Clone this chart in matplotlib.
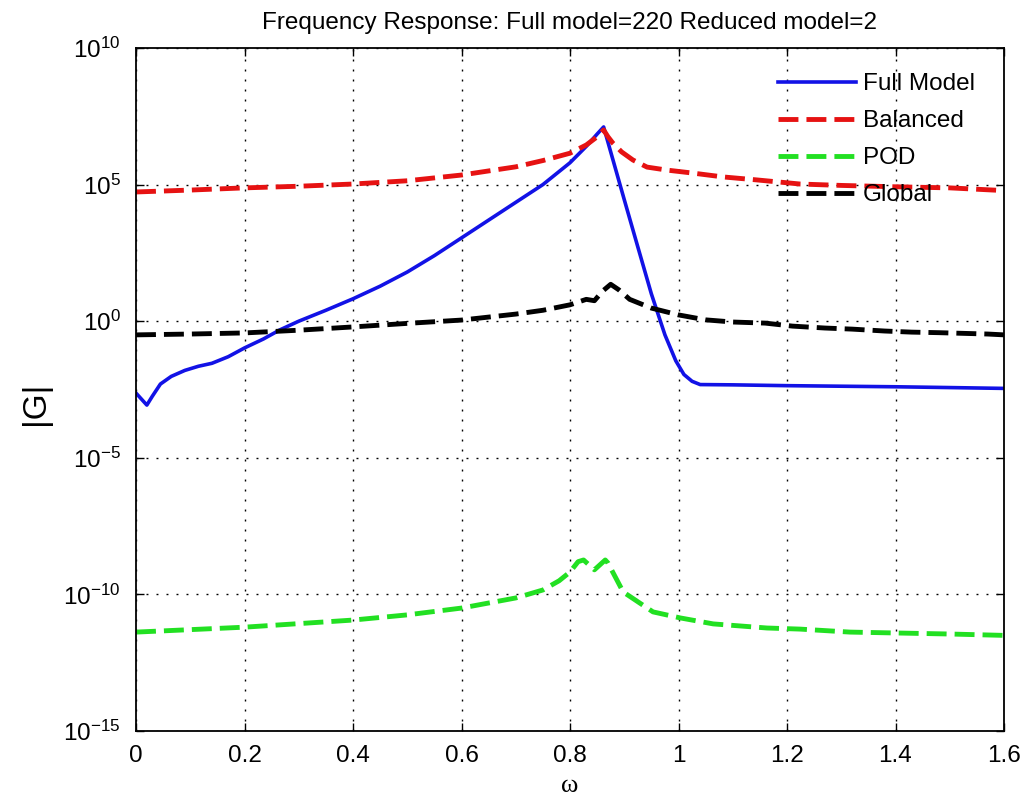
import matplotlib
matplotlib.use("Agg")
import matplotlib.pyplot as plt
from matplotlib.ticker import NullLocator, FixedLocator

plt.rcParams['font.family'] = ['Liberation Sans', 'DejaVu Sans']
plt.rcParams['mathtext.fontset'] = 'custom'
plt.rcParams['mathtext.rm'] = 'Liberation Sans'
plt.rcParams['mathtext.it'] = 'Liberation Sans:italic'
plt.rcParams['mathtext.bf'] = 'Liberation Sans:bold'
plt.rcParams['axes.unicode_minus'] = False

# Frequency response magnitudes |G(w)|
w_full = [0.000, 0.010, 0.020, 0.030, 0.045, 0.065, 0.090, 0.115, 0.140, 0.170,
          0.200, 0.235, 0.265, 0.300, 0.350, 0.400, 0.450, 0.500, 0.550, 0.600,
          0.650, 0.700, 0.750, 0.800, 0.830, 0.850, 0.862, 0.875, 0.900, 0.925,
          0.950, 0.975, 0.995, 1.010, 1.025, 1.040, 1.100, 1.200, 1.300, 1.400,
          1.500, 1.600]
g_full = [2.34e-3, 1.41e-3, 8.51e-4, 1.78e-3, 5.01e-3, 9.55e-3, 1.58e-2, 2.24e-2, 2.88e-2, 5.01e-2,
          1.05e-1, 2.24e-1, 4.79e-1, 1.0, 2.51, 6.61, 19.1, 63.1, 251.0, 1.12e3,
          5.01e3, 2.24e4, 1.0e5, 6.31e5, 2.51e6, 7.08e6, 1.29e7, 1.58e6, 2.82e4, 525.0,
          10.0, 0.316, 3.55e-2, 1.12e-2, 6.31e-3, 4.79e-3, 4.68e-3, 4.37e-3, 4.17e-3, 3.98e-3,
          3.72e-3, 3.47e-3]

w_bal = [0.0, 0.1, 0.2, 0.3, 0.4, 0.5, 0.6, 0.7, 0.75, 0.80, 0.83, 0.85, 0.862,
         0.870, 0.879, 0.895, 0.916, 0.942, 0.979, 1.027, 1.082, 1.145, 1.224, 1.3,
         1.4, 1.5, 1.6]
g_bal = [5.37e4, 6.31e4, 7.59e4, 8.71e4, 1.05e5, 1.38e5, 2.24e5, 4.47e5, 7.59e5, 1.41e6,
         2.82e6, 5.62e6, 1.0e7, 5.62e6, 3.31e6, 1.58e6, 7.94e5, 4.37e5, 3.39e5, 2.63e5,
         1.91e5, 1.48e5, 1.05e5, 9.33e4, 8.32e4, 7.59e4, 6.03e4]

w_pod = [0.0, 0.2, 0.4, 0.5, 0.6, 0.7, 0.75, 0.78, 0.80, 0.815, 0.825, 0.845,
         0.865, 0.870, 0.898, 0.953, 1.003, 1.064, 1.163, 1.224, 1.316, 1.395, 1.5, 1.6]
g_pod = [4.17e-12, 6.31e-12, 1.15e-11, 1.78e-11, 3.16e-11, 7.41e-11, 1.45e-10, 3.16e-10,
         6.61e-10, 1.58e-9, 1.82e-9, 7.94e-10, 1.82e-9, 1.41e-9, 1.23e-10, 2.29e-11,
         1.38e-11, 8.32e-12, 5.89e-12, 5.37e-12, 4.17e-12, 3.89e-12, 3.55e-12, 3.16e-12]

w_glob = [0.0, 0.1, 0.2, 0.3, 0.4, 0.5, 0.6, 0.7, 0.75, 0.80, 0.83, 0.845, 0.86,
          0.875, 0.89, 0.91, 0.95, 1.0, 1.05, 1.1, 1.16, 1.21, 1.27, 1.32, 1.38,
          1.43, 1.48, 1.57, 1.6]
g_glob = [0.316, 0.339, 0.372, 0.468, 0.617, 0.832, 1.10, 1.82, 2.51, 3.98, 6.31, 5.62,
          12.6, 22.4, 14.1, 6.31, 3.02, 1.70, 1.12, 0.933, 0.851, 0.661, 0.562, 0.513,
          0.437, 0.398, 0.380, 0.339, 0.316]

series_labels = ['Full Model', 'Balanced', 'POD', 'Global']
x_ticks = [0, 0.2, 0.4, 0.6, 0.8, 1.0, 1.2, 1.4, 1.6]
x_ticklabels = ['0', '0.2', '0.4', '0.6', '0.8', '1', '1.2', '1.4', '1.6']
y_ticks = [1e-15, 1e-10, 1e-5, 1e0, 1e5, 1e10]
y_ticklabels = [r'$10^{-15}$', r'$10^{-10}$', r'$10^{-5}$', r'$10^{0}$', r'$10^{5}$', r'$10^{10}$']

W, H = 1023, 805
fig = plt.figure(figsize=(W / 100, H / 100), dpi=100)
left, right, top, bottom = 136, 1004, 48, 731
ax = fig.add_axes([left / W, 1 - bottom / H, (right - left) / W, (bottom - top) / H])

dash = (0, (4.1, 1.65))
ax.plot(w_full, g_full, color='#1212e6', lw=2.6, label=series_labels[0])
ax.plot(w_bal, g_bal, color='#e61212', lw=3.5, ls=dash, label=series_labels[1])
ax.plot(w_pod, g_pod, color='#22e022', lw=3.5, ls=dash, label=series_labels[2])
ax.plot(w_glob, g_glob, color='black', lw=3.5, ls=dash, label=series_labels[3])

ax.set_yscale('log')
ax.set_xlim(0, 1.6)
ax.set_ylim(1e-15, 1e10)
ax.xaxis.set_major_locator(FixedLocator(x_ticks))
ax.set_xticklabels(x_ticklabels)
ax.yaxis.set_major_locator(FixedLocator(y_ticks))
ax.yaxis.set_minor_locator(NullLocator())
ax.set_yticklabels(y_ticklabels)

ax.tick_params(axis='both', which='major', direction='in', length=6, width=1.0,
               top=True, right=True, labelsize=17.5, colors='black')
ax.tick_params(axis='x', pad=10)
ax.tick_params(axis='y', pad=11)
for s in ax.spines.values():
    s.set_linewidth(1.3)

ax.grid(True, which='major', color='black', lw=1.0, ls=(0, (1.4, 5.8)))

ax.set_title('Frequency Response: Full model=220 Reduced model=2', fontsize=17.5, pad=14)
ax.set_xlabel('ω', fontsize=19, family=['Liberation Serif', 'DejaVu Serif'])
ax.xaxis.set_label_coords(0.5, -0.064)
ax.set_ylabel('|G|', fontsize=24)
ax.yaxis.set_label_coords(-0.098, 0.48)

ax.legend(loc='upper left', bbox_to_anchor=((778 - left) / (right - left), (bottom - 73) / (bottom - top)),
          frameon=False, fontsize=17.5, handlelength=3.2, handletextpad=0.3,
          labelspacing=0.62, borderpad=0, borderaxespad=0)

fig.savefig('out.png', dpi=100)
